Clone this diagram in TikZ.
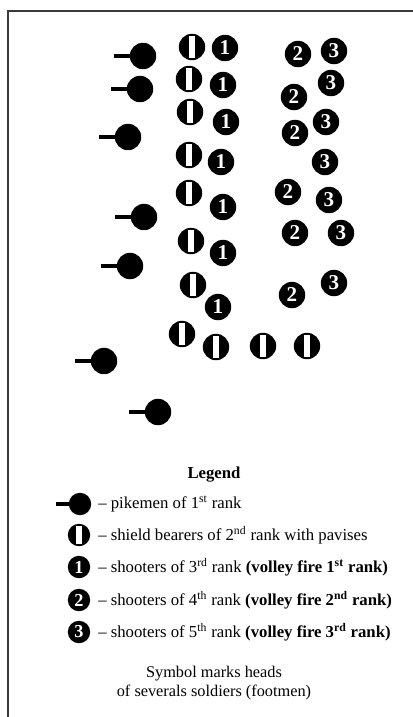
\documentclass[tikz,border=0pt]{standalone}
\usepackage{fontspec}
\setmainfont{Liberation Serif}
\begin{document}
\begin{tikzpicture}[x=0.025cm, y=-0.025cm]
    \definecolor{frameColour}{HTML}{3A3A3A}

    \def\headSize{0.66cm}
    \def\pikeLength{29}

    \tikzset{
        head/.style={circle, fill=black, minimum size=\headSize, inner sep=0pt},
        pikeman/.style={head},
        stick/.style={line width=1mm},
        shield/.style={head, path picture={
            \filldraw[fill=white, draw=black, line width=0.5pt]
                ([xshift=-0.085cm,yshift=-0.045cm]path picture bounding box.north)
                rectangle ([xshift=0.085cm,yshift=0.045cm]path picture bounding box.south);}},
        shooter/.style={head, text=white, font=\bfseries\fontsize{15}{15}\selectfont},
        small/.style={minimum size=0.56cm, font=\bfseries\fontsize{13}{13}\selectfont},
        legendText/.style={anchor=west, inner sep=0pt, font=\fontsize{11.9}{14}\selectfont}
    }

    \useasboundingbox (0,0) rectangle (413,717);

    \coordinate (frameRight) at (413,11);
    \coordinate (frameCorner) at (8,11);
    \coordinate (frameBottom) at (8,717);
    \draw[frameColour, line width=1.2pt] (frameRight) -- (frameCorner) -- (frameBottom);

    \foreach \px/\py [count=\i] in {143/56, 140/89, 128/137, 144/217, 130/266, 104/361, 158/412}
    {
        \node[pikeman] (pike\i) at (\px,\py) {};
        \draw[stick] (pike\i.center) -- ++(-\pikeLength,0);
    }

    \foreach \px/\py [count=\i] in {192/47, 189/79, 190/112, 189/155, 189/193, 191/241, 193/285, 182/334, 216/347, 263/346, 307/346}
        \node[shield] (shield\i) at (\px,\py) {};

    \foreach \px/\py [count=\i] in {225/48, 223/85, 226/122, 221/162, 223/207, 223/253, 218/307}
        \node[shooter] (first\i) at (\px,\py) {1};
    \foreach \px/\py [count=\i] in {298/54, 294/97, 295/133, 288/192, 295/233, 292/295}
        \node[shooter] (second\i) at (\px,\py) {2};
    \foreach \px/\py [count=\i] in {334/51, 331/83, 326/122, 325/162, 329/200, 341/233, 334/283}
        \node[shooter] (third\i) at (\px,\py) {3};

    \node[font=\bfseries\fontsize{11.9}{14}\selectfont] (legend) at (214,475) {Legend};

    \node[pikeman, small] (keyPike) at (80,504) {};
    \draw[stick] (keyPike.center) -- ++(-24,0);
    \node[shield, small] (keyShield) at (79,535) {};
    \node[shooter, small] (keyFirst) at (79,567) {1};
    \node[shooter, small] (keySecond) at (79,600) {2};
    \node[shooter, small] (keyThird) at (79,632) {3};

    \node[legendText] (textPike) at (98,504) {– pikemen of 1\textsuperscript{st} rank};
    \node[legendText] (textShield) at (98,535) {– shield bearers of 2\textsuperscript{nd} rank with pavises};
    \node[legendText] (textFirst) at (98,567) {– shooters of 3\textsuperscript{rd} rank \textbf{(volley fire 1\textsuperscript{st} rank)}};
    \node[legendText] (textSecond) at (98,600) {– shooters of 4\textsuperscript{th} rank \textbf{(volley fire 2\textsuperscript{nd} rank)}};
    \node[legendText] (textThird) at (98,632) {– shooters of 5\textsuperscript{th} rank \textbf{(volley fire 3\textsuperscript{rd} rank)}};

    \node[align=center, font=\fontsize{11.6}{14}\selectfont] (note) at (214,683) {Symbol marks heads\\of severals soldiers (footmen)};

\end{tikzpicture}
\end{document}
